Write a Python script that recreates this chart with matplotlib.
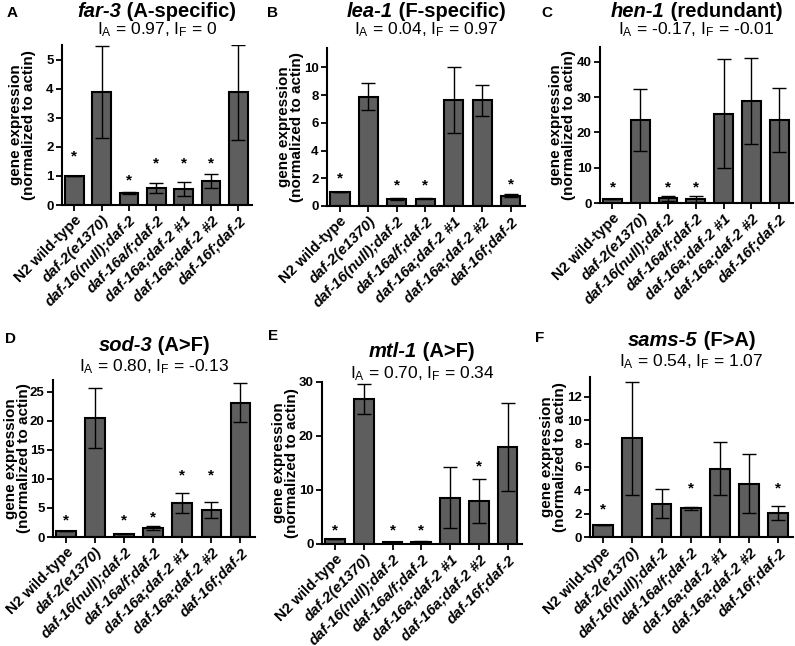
import numpy as np
import matplotlib.pyplot as plt

plt.rcParams['font.family'] = ['Liberation Sans', 'DejaVu Sans']
plt.rcParams['mathtext.default'] = 'regular'

strains = ["N2 wild-type", "daf-2(e1370)", "daf-16(null);daf-2", "daf-16a/f;daf-2",
           "daf-16a;daf-2 #1", "daf-16a;daf-2 #2", "daf-16f;daf-2"]

# panel A: far-3
far3_mean = [1.0, 3.88, 0.40, 0.58, 0.55, 0.82, 3.87]
far3_err = [0, 1.58, 0.03, 0.16, 0.23, 0.24, 1.63]
far3_star = [1.66, None, 0.86, 1.43, 1.43, 1.43, None]

# panel B: lea-1
lea1_mean = [1.0, 7.9, 0.51, 0.53, 7.62, 7.62, 0.75]
lea1_err = [0, 1.0, 0.06, 0.02, 2.38, 1.1, 0.1]
lea1_star = [2.0, None, 1.45, 1.45, None, None, 1.55]

# panel C: hen-1
hen1_mean = [1.0, 23.5, 1.3, 1.2, 25.3, 28.9, 23.6]
hen1_err = [0, 8.7, 0.8, 0.8, 15.5, 12.2, 9.1]
hen1_star = [4.4, None, 4.4, 4.4, None, None, None]

# panel D: sod-3
sod3_mean = [1.0, 20.5, 0.5, 1.55, 5.9, 4.7, 23.1]
sod3_err = [0, 5.2, 0.05, 0.35, 1.7, 1.4, 3.3]
sod3_star = [2.9, None, 2.9, 3.4, 10.6, 10.6, None]

# panel E: mtl-1
mtl1_mean = [1.0, 26.9, 0.3, 0.4, 8.6, 8.0, 18.0]
mtl1_err = [0, 2.8, 0.05, 0.15, 5.6, 4.1, 8.1]
mtl1_star = [2.5, None, 2.5, 2.5, None, 14.3, None]

# panel F: sams-5
sams5_mean = [1.0, 8.45, 2.85, 2.45, 5.85, 4.55, 2.05]
sams5_err = [0, 4.85, 1.22, 0.15, 2.27, 2.52, 0.58]
sams5_star = [2.35, None, None, 4.15, None, None, 4.15]

panels = [
    ("A", "far-3", "(A-specific)", "0.97", "0", far3_mean, far3_err, far3_star, 5.5, [0, 1, 2, 3, 4, 5]),
    ("B", "lea-1", "(F-specific)", "0.04", "0.97", lea1_mean, lea1_err, lea1_star, 11.4, [0, 2, 4, 6, 8, 10]),
    ("C", "hen-1", "(redundant)", "-0.17", "-0.01", hen1_mean, hen1_err, hen1_star, 44.2, [0, 10, 20, 30, 40]),
    ("D", "sod-3", "(A>F)", "0.80", "-0.13", sod3_mean, sod3_err, sod3_star, 27.0, [0, 5, 10, 15, 20, 25]),
    ("E", "mtl-1", "(A>F)", "0.70", "0.34", mtl1_mean, mtl1_err, mtl1_star, 30.0, [0, 10, 20, 30]),
    ("F", "sams-5", "(F>A)", "0.54", "1.07", sams5_mean, sams5_err, sams5_star, 13.7, [0, 2, 4, 6, 8, 10, 12]),
]

# axes rectangles in pixels: left, top, right, bottom
W, H = 795, 646
boxes = [(62, 45, 252, 205), (327, 48, 525, 206), (600, 47, 793, 203),
         (53, 380, 255, 537), (322, 382, 522, 544), (590, 377, 793, 537)]
title_y = [17, 17, 17, 351, 357, 346]
sub_y = [34, 34, 34, 371, 378, 366]
letter_pos = [(7, 17), (267, 17), (541, 17), (5, 343), (268, 340), (535, 342)]
ylabel_right = [36, 304, 576, 31, 299, 567]  # pixel x of the y label's right edge

fig = plt.figure(figsize=(W / 100, H / 100), dpi=100)
renderer = fig.canvas.get_renderer()

for (letter, gene, kind, ia, if_, mean, err, star, ytop, yt), box, ty, sy, lp, yr in zip(
        panels, boxes, title_y, sub_y, letter_pos, ylabel_right):
    l, t, r, b = box
    ax = fig.add_axes([l / W, 1 - b / H, (r - l) / W, (b - t) / H])
    x = np.arange(len(strains))
    ax.bar(x, mean, width=0.68, color='#5e5e5e', edgecolor='black', linewidth=1.5, zorder=2)
    ax.errorbar(x, mean, yerr=err, fmt='none', ecolor='black', elinewidth=1.0,
                capsize=5, capthick=1.0, zorder=3)
    for xi, s in zip(x, star):
        if s is not None:
            ax.text(xi, s, "*", ha='center', va='center', fontsize=11, fontweight='bold')
    ax.set_xlim(-0.45, 6.5)
    ax.set_ylim(0, ytop)
    ax.set_yticks(yt)
    ax.set_xticks(x)
    ax.set_xticklabels(strains, rotation=45, ha='right', rotation_mode='anchor',
                       fontsize=10.8, fontweight='bold')
    for lab in ax.get_xticklabels()[1:]:
        lab.set_fontstyle('italic')
    for lab in ax.get_yticklabels():
        lab.set_fontsize(9.5)
        lab.set_fontweight('bold')
    ax.spines['top'].set_visible(False)
    ax.spines['right'].set_visible(False)
    ax.spines['left'].set_linewidth(1.5)
    ax.spines['bottom'].set_linewidth(1.5)
    ax.tick_params(axis='both', width=1.3, length=4, pad=2)
    ax.set_ylabel("gene expression\n(normalized to actin)", fontsize=11, fontweight='bold',
                  linespacing=0.9)
    ax.yaxis.set_label_coords(-(l - yr) / (r - l), 0.5)

    # title: italic gene name followed by upright class, centred on the axes
    cx = (l + r) / 2 / W
    t1 = fig.text(0, 1 - ty / H, gene, fontsize=14.5, fontweight='bold', fontstyle='italic',
                  va='baseline', ha='left')
    t2 = fig.text(0, 1 - ty / H, " " + kind, fontsize=14.5, fontweight='bold',
                  va='baseline', ha='left')
    w1 = t1.get_window_extent(renderer).width / W
    w2 = t2.get_window_extent(renderer).width / W
    x0 = cx - (w1 + w2) / 2
    t1.set_x(x0)
    t2.set_x(x0 + w1)
    fig.text(cx, 1 - sy / H, "$I_A$ = %s, $I_F$ = %s" % (ia, if_), fontsize=12.5,
             ha='center', va='baseline')
    fig.text(lp[0] / W, 1 - lp[1] / H, letter, fontsize=11, fontweight='bold',
             ha='left', va='baseline')

fig.savefig("out.png", dpi=100)
